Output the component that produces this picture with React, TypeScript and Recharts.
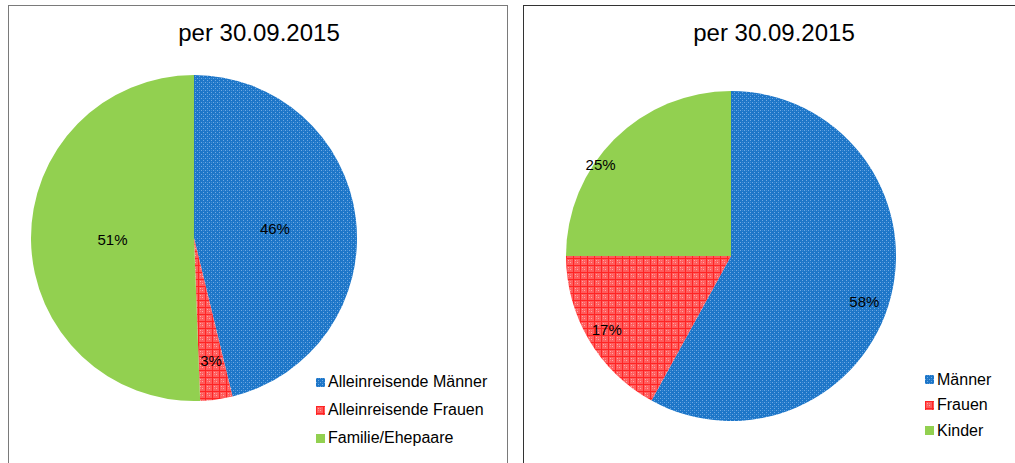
import React from "react";
import { PieChart, Pie, Cell, Legend } from "recharts";

// data
const leftNames = ["Alleinreisende Männer", "Alleinreisende Frauen", "Familie/Ehepaare"];
const leftValues = [46.2, 3.2, 50.6];
const rightNames = ["Männer", "Frauen", "Kinder"];
const rightValues = [58, 17, 25];
const titleText = "per 30.09.2015";

const FILLS = ["url(#blueDots)", "url(#redCheck)", "#92d050"];
const RADIAN = Math.PI / 180;
const FONT = '"Liberation Sans", Arial, Helvetica, sans-serif';

interface PanelProps {
  names: string[];
  values: number[];
  left: number;
  cx: number;
  cy: number;
  radius: number;
  labelR: number[];
  labelShift: number[];
  legendLeft: number;
  legendTop: number;
  legendGap: number;
  borderColor: string;
}

const Patterns = () => (
  <svg width={0} height={0} style={{ position: "absolute" }}>
    <defs>
      <pattern id="blueDots" width="4" height="4" patternUnits="userSpaceOnUse">
        <rect width="4" height="4" fill="#1d76c8" />
        <rect x="0" y="0" width="1" height="1" fill="#6fa9e3" />
        <rect x="2" y="2" width="1" height="1" fill="#6fa9e3" />
        <rect x="2" y="0" width="1" height="1" fill="#3d8bd4" />
      </pattern>
      <pattern id="redCheck" width="7" height="7" patternUnits="userSpaceOnUse">
        <rect width="7" height="7" fill="#ff5c5c" />
        <rect x="0" y="0" width="7" height="1" fill="#ff2424" />
        <rect x="0" y="0" width="1" height="7" fill="#ff2424" />
        <rect x="2" y="2" width="1" height="1" fill="#ffa8a8" />
        <rect x="4" y="4" width="1" height="1" fill="#ffa8a8" />
        <rect x="2" y="4" width="1" height="1" fill="#ff8080" />
        <rect x="4" y="2" width="1" height="1" fill="#ff8080" />
      </pattern>
    </defs>
  </svg>
);

const PiePanel = (p: PanelProps) => {
  const data = p.names.map((n, i) => ({ name: n, value: p.values[i] }));
  return (
    <div
      style={{
        position: "absolute",
        left: p.left,
        top: 5,
        width: 500,
        height: 470,
        border: `1px solid ${p.borderColor}`,
        boxSizing: "border-box",
        background: "#fff",
      }}
    >
      <div
        style={{
          position: "absolute",
          left: 0,
          top: 14,
          width: 500,
          textAlign: "center",
          fontSize: 24,
          lineHeight: "26px",
          color: "#000",
        }}
      >
        {titleText}
      </div>
      <PieChart width={498} height={468}>
        <Pie
          data={data}
          dataKey="value"
          nameKey="name"
          cx={p.cx}
          cy={p.cy}
          outerRadius={p.radius}
          startAngle={90}
          endAngle={-270}
          stroke="none"
          labelLine={false}
          isAnimationActive={false}
          label={({ cx, cy, midAngle, outerRadius, percent, index }: any) => {
            const r = outerRadius * p.labelR[index];
            const a = midAngle + p.labelShift[index];
            const x = cx + r * Math.cos(-a * RADIAN);
            const y = cy + r * Math.sin(-a * RADIAN);
            return (
              <text
                x={x}
                y={y}
                fill="#000"
                textAnchor="middle"
                dominantBaseline="central"
                style={{ fontSize: 15, fontFamily: FONT }}
              >
                {`${Math.round(percent * 100)}%`}
              </text>
            );
          }}
        >
          {data.map((d, i) => (
            <Cell key={`cell-${i}`} fill={FILLS[i % FILLS.length]} />
          ))}
        </Pie>
        <Legend
          layout="vertical"
          wrapperStyle={{ left: p.legendLeft, top: p.legendTop, width: 200, bottom: "auto" }}
          content={() => (
            <div>
              {p.names.map((n, i) => (
                <div
                  key={`leg-${i}`}
                  style={{
                    display: "flex",
                    alignItems: "center",
                    height: p.legendGap,
                    fontSize: 16,
                    fontFamily: FONT,
                    color: "#000",
                    whiteSpace: "nowrap",
                  }}
                >
                  <svg width={9} height={9} style={{ marginRight: 3 }}>
                    <rect width={9} height={9} fill={FILLS[i % FILLS.length]} />
                  </svg>
                  {n}
                </div>
              ))}
            </div>
          )}
        />
      </PieChart>
    </div>
  );
};

export default function App() {
  return (
    <div
      style={{
        position: "fixed",
        left: 0,
        top: 0,
        width: 1015,
        height: 463,
        overflow: "hidden",
        background: "#fff",
        fontFamily: FONT,
      }}
    >
      <Patterns />
      <PiePanel
        names={leftNames}
        values={leftValues}
        left={8}
        cx={180}
        cy={227}
        radius={163}
        labelR={[0.5, 0.76, 0.5]}
        labelShift={[0, 0, 0]}
        legendLeft={307}
        legendTop={362}
        legendGap={28}
        borderColor="#7a7a7a"
      />
      <PiePanel
        names={rightNames}
        values={rightValues}
        left={523}
        cx={202}
        cy={245}
        radius={165}
        labelR={[0.855, 0.875, 0.965]}
        labelShift={[-4.6, 0, 10]}
        legendLeft={401}
        legendTop={361}
        legendGap={25.5}
        borderColor="#333333"
      />
    </div>
  );
}
